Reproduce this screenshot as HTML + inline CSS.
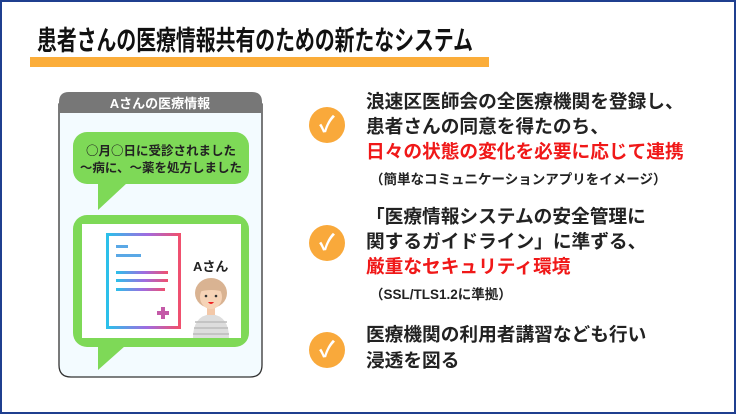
<!DOCTYPE html>
<html><head><meta charset="utf-8"><style>
body{margin:0;width:736px;height:414px;overflow:hidden;background:#fff;font-family:"Liberation Sans","Noto Sans CJK JP",sans-serif;}
.frame{position:absolute;left:0;top:0;width:732px;height:410px;border:2px solid #1f3f8f;}
.t{position:absolute;white-space:nowrap;font-weight:bold;}
.title{left:37px;top:24px;font-size:27px;color:#111;transform:scaleX(0.735);transform-origin:left top;line-height:34px;}
.bar{position:absolute;left:30px;top:57px;width:459px;height:10px;background:#fbad3a;}
.chk{position:absolute;width:36px;height:36px;border-radius:50%;background:#f9a93b;color:#fff;font-size:22px;font-weight:bold;text-align:center;line-height:36px;}
.r{font-size:18.7px;color:#222;line-height:25px;}
.red{color:#f01818;}
.s{font-size:13.5px;color:#222;}
</style></head><body>
<div class="frame"></div>
<div class="t title">患者さんの医療情報共有のための新たなシステム</div>
<div class="bar"></div>

<svg width="736" height="414" style="position:absolute;left:0;top:0">
<defs><linearGradient id="g" x1="0" x2="1" y1="0" y2="0"><stop offset="0" stop-color="#2bc0ea"/><stop offset="0.55" stop-color="#a06be0"/><stop offset="1" stop-color="#f0506e"/></linearGradient></defs>
<path d="M59,104 V365 Q59,377 71,377 H250 Q262,377 262,365 V104 Z" fill="#f3fbff" stroke="#333" stroke-width="1.3"/>
<path d="M59,113 V102 Q59,92 69,92 H252 Q262,92 262,102 V113 Z" fill="#777"/>
<text x="160" y="108" font-size="13" font-weight="bold" fill="#fff" text-anchor="middle" font-family="Liberation Sans,Noto Sans CJK JP,sans-serif">Aさんの医療情報</text>
<rect x="73" y="132" width="176" height="52" rx="14" fill="#7ed957"/>
<path d="M98,183 H127 L98,210 Z" fill="#7ed957"/>
<text x="161" y="155" font-size="12.5" font-weight="bold" fill="#222" text-anchor="middle" font-family="Noto Sans CJK JP,sans-serif">○月○日に受診されました</text>
<text x="161" y="172" font-size="12.5" font-weight="bold" fill="#222" text-anchor="middle" font-family="Noto Sans CJK JP,sans-serif">～病に、～薬を処方しました</text>
<rect x="73" y="215" width="176" height="132" rx="14" fill="#7ed957"/>
<path d="M98,346 H125 L98,370 Z" fill="#7ed957"/>
<rect x="82" y="224" width="159" height="114" fill="#fff"/>
<rect x="107.5" y="234.5" width="72" height="93" fill="none" stroke="url(#g)" stroke-width="3"/>
<g fill="url(#g)">
<rect x="116" y="245" width="12" height="3" fill="#5aa8e6"/>
<rect x="116" y="254" width="25" height="3" fill="#5aa8e6"/>
<rect x="116" y="271" width="52" height="3"/>
<rect x="116" y="279" width="52" height="3"/>
<rect x="116" y="288" width="49" height="3"/>
</g>
<rect x="157" y="311" width="12" height="4" fill="#c45aa8"/>
<rect x="161" y="307" width="4" height="12" fill="#c45aa8"/>
<text x="193" y="271" font-size="13" font-weight="bold" fill="#222" font-family="Liberation Sans,Noto Sans CJK JP,sans-serif">Aさん</text>
<path d="M193,338 Q193,316 211,314 Q229,316 229,338 Z" fill="#ddd"/>
<g stroke="#bbb" stroke-width="1.5"><line x1="195" y1="322" x2="227" y2="322"/><line x1="194" y1="328" x2="228" y2="328"/><line x1="193" y1="334" x2="229" y2="334"/></g>
<rect x="207" y="306" width="8" height="9" fill="#f3c8a8"/>
<ellipse cx="211" cy="293" rx="16" ry="15" fill="#d9b392"/>
<ellipse cx="211" cy="297" rx="11" ry="12" fill="#f6d3b6"/>
<path d="M198,290 Q203,280 219,282 Q224,286 224,292 Q212,288 198,292Z" fill="#d9b392"/>
<circle cx="206" cy="296" r="1.3" fill="#333"/><circle cx="216" cy="296" r="1.3" fill="#333"/>
<path d="M208,302 Q211,306 214,302 Z" fill="#e22"/>
</svg>

<div class="chk" style="left:309px;top:107px">✓</div>
<div class="chk" style="left:309px;top:225px">✓</div>
<div class="chk" style="left:309px;top:332px">✓</div>

<div class="t r" style="left:366px;top:89px">浪速区医師会の全医療機関を登録し、</div>
<div class="t r" style="left:366px;top:114px">患者さんの同意を得たのち、</div>
<div class="t r red" style="left:366px;top:139px">日々の状態の変化を必要に応じて連携</div>
<div class="t s" style="left:370px;top:168px">（簡単なコミュニケーションアプリをイメージ）</div>

<div class="t r" style="left:366px;top:204px">「医療情報システムの安全管理に</div>
<div class="t r" style="left:366px;top:229px">関するガイドライン」に準ずる、</div>
<div class="t r red" style="left:366px;top:254px">厳重なセキュリティ環境</div>
<div class="t s" style="left:370px;top:283px">（SSL/TLS1.2に準拠）</div>

<div class="t r" style="left:366px;top:322px">医療機関の利用者講習なども行い</div>
<div class="t r" style="left:366px;top:348px">浸透を図る</div>
</body></html>
